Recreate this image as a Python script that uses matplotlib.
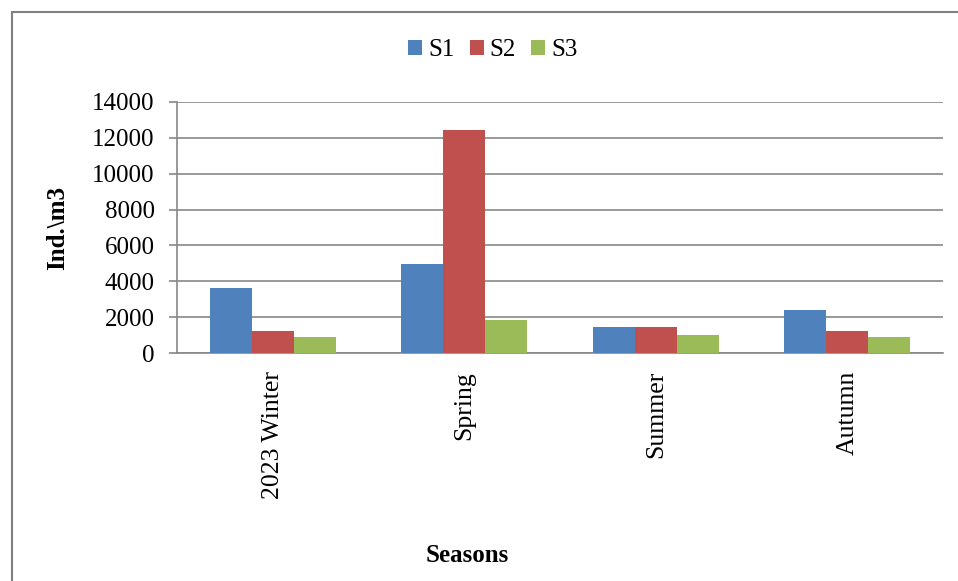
import numpy as np
import matplotlib.pyplot as plt
from matplotlib.patches import Rectangle

plt.rcParams['font.family'] = ['Liberation Serif', 'DejaVu Serif']

# Data
seasons = ['2023 Winter', 'Spring', 'Summer', 'Autumn']
s1 = [3600, 4950, 1450, 2400]
s2 = [1250, 12450, 1450, 1250]
s3 = [870, 1850, 1030, 880]
series_names = ['S1', 'S2', 'S3']
colors = ['#4F81BD', '#C0504D', '#9BBB59']
grid_color = '#888888'

fig = plt.figure(figsize=(9.58, 5.81), dpi=100)
ax = fig.add_axes([177 / 958, 1 - 353 / 581, (943 - 177) / 958, (353 - 102) / 581])

x = np.arange(len(seasons))
width = 0.22
for i, (vals, name) in enumerate(zip([s1, s2, s3], series_names)):
    ax.bar(x + (i - 1) * width, vals, width, color=colors[i], label=name, zorder=3)

ax.set_xlim(-0.5, len(seasons) - 0.5)
ax.set_ylim(0, 14000)
ax.set_yticks(np.arange(0, 14001, 2000))
ax.yaxis.grid(True, color=grid_color, linewidth=1.2, zorder=0)
ax.set_axisbelow(True)

for side in ['top', 'right']:
    ax.spines[side].set_visible(False)
for side in ['left', 'bottom']:
    ax.spines[side].set_color(grid_color)
    ax.spines[side].set_linewidth(1.2)

ax.tick_params(axis='y', direction='out', length=6, width=1.2, color=grid_color,
               pad=10, labelsize=18)
ax.tick_params(axis='x', length=0, pad=13, labelsize=18.5)
ax.set_xticks(x)
ax.set_xticklabels(seasons, rotation=90, va='top')

ax.set_ylabel('Ind.\\m3', fontsize=18, fontweight='bold')
ax.yaxis.set_label_coords(-0.141, 0.5)
fig.text(467 / 958, 1 - 555 / 581, 'Seasons', fontsize=18, fontweight='bold',
         ha='center', va='center')

fig.legend(loc='center', bbox_to_anchor=(493 / 958, 1 - 50 / 581), ncol=3,
           frameon=False, fontsize=18, handlelength=0.55, handleheight=0.55,
           handletextpad=0.25, columnspacing=0.6)

# outer chart border
fig.patches.append(Rectangle((12 / 958, -0.1), 1.2, 1.1 - 12 / 581, transform=fig.transFigure,
                             fill=False, edgecolor='#808080', linewidth=1.5))

fig.savefig('out.png', dpi=100)
